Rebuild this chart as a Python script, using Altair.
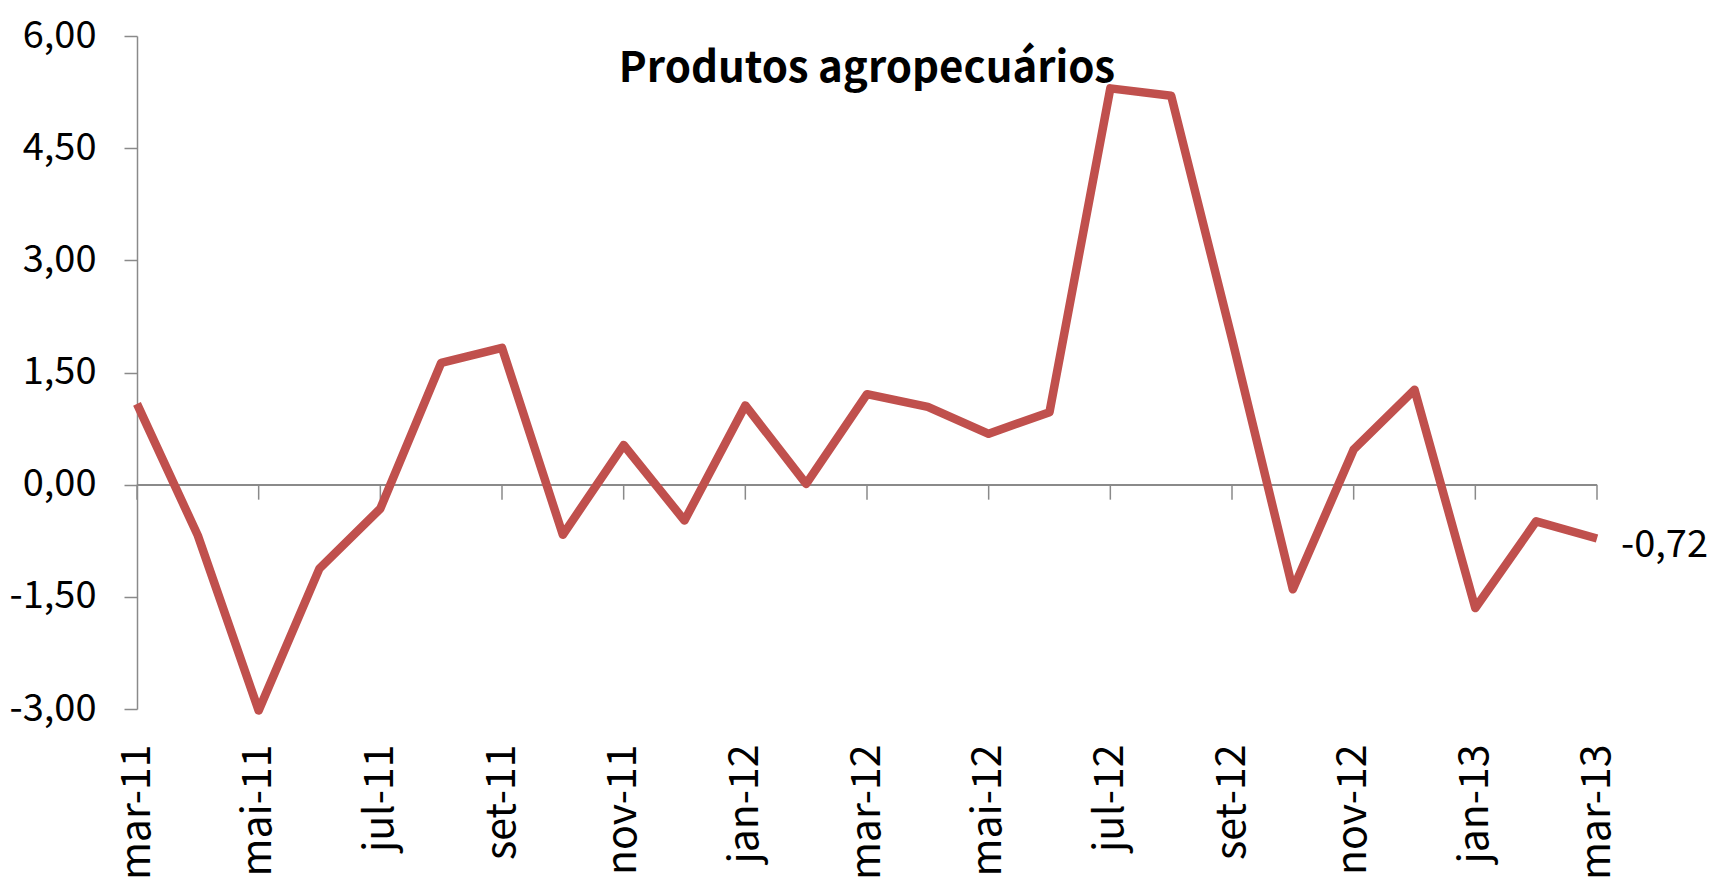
import altair as alt
import pandas as pd

months = ["mar-11", "abr-11", "mai-11", "jun-11", "jul-11", "ago-11", "set-11", "out-11",
          "nov-11", "dez-11", "jan-12", "fev-12", "mar-12", "abr-12", "mai-12", "jun-12",
          "jul-12", "ago-12", "set-12", "out-12", "nov-12", "dez-12", "jan-13", "fev-13",
          "mar-13"]
values = [1.08, -0.68, -3.02, -1.12, -0.32, 1.63, 1.83, -0.67, 0.53, -0.48, 1.06, 0.01,
          1.21, 1.04, 0.68, 0.97, 5.30, 5.20, 1.95, -1.40, 0.47, 1.27, -1.65, -0.49, -0.72]
tick_months = months[::2]
y_ticks = [-3, -1.5, 0, 1.5, 3, 4.5, 6]
title_text = "Produtos agropecuários"

GRAY = "#8a8a8a"
RED = "#C0504D"
FONT = "Noto Sans CJK SC"

W, H = 1460, 673

NUM_EXPR = "replace(replace(format(datum.value, '.2f'), '.', ','), '\u2212', '-')"

df = pd.DataFrame({"month": months, "value": values})
ticks_df = pd.DataFrame({"month": tick_months})
last_df = df.tail(1)
title_df = pd.DataFrame({"t": [title_text]})

x_scale = alt.Scale(type="point", padding=0)
x_axis = alt.Axis(values=tick_months, labelAngle=-90, ticks=False, domain=False,
                  labelPadding=35, labelFontSize=41, labelFont=FONT, labelColor="black",
                  title=None, grid=False, labelOverlap=False, labelLimit=400)
y_scale = alt.Scale(domain=[-3, 6], nice=False, zero=False)
y_axis = alt.Axis(values=y_ticks, labelExpr=NUM_EXPR,
                  tickSize=13, tickColor=GRAY, domainColor=GRAY, tickWidth=1.5,
                  domainWidth=1.5, labelPadding=28, labelFontSize=38, labelFont=FONT,
                  labelColor="black", grid=False, title=None, labelOverlap=False)

X = alt.X("month:O", sort=months, scale=x_scale, axis=x_axis)

zero_line = alt.Chart(df).mark_rule(color=GRAY, strokeWidth=1.5).encode(
    x=alt.datum(months[0]), x2=alt.datum(months[-1]),
    y=alt.YDatum(0, scale=y_scale, axis=y_axis),
)

tick_marks = alt.Chart(ticks_df).mark_rule(color=GRAY, strokeWidth=1.5, y2Offset=15).encode(
    x=X,
    y=alt.YDatum(0, scale=y_scale, axis=y_axis),
    y2=alt.datum(0),
)

line = alt.Chart(df).mark_line(color=RED, strokeWidth=8.5, strokeJoin="round").encode(
    x=X,
    y=alt.Y("value:Q", scale=y_scale, axis=y_axis),
)

label = alt.Chart(last_df).transform_calculate(
    lbl=NUM_EXPR
).mark_text(align="left", baseline="middle", dx=24, dy=7, fontSize=38, font=FONT,
            color="black").encode(
    x=X,
    y=alt.Y("value:Q", scale=y_scale, axis=y_axis),
    text="lbl:N",
)

title = alt.Chart(title_df).mark_text(
    align="center", baseline="alphabetic", fontSize=42, font=FONT, fontWeight="bold",
    color="black"
).encode(x=alt.value(W / 2), y=alt.value(46), text="t:N")

chart = alt.layer(zero_line, tick_marks, line, label, title).properties(
    width=W, height=H,
    autosize=alt.AutoSizeParams(type="none"),
    padding={"left": 129, "top": 28, "right": 110, "bottom": 174},
).configure_view(stroke=None)

chart.save("out.html", embed_options={"renderer": "svg", "actions": False})
